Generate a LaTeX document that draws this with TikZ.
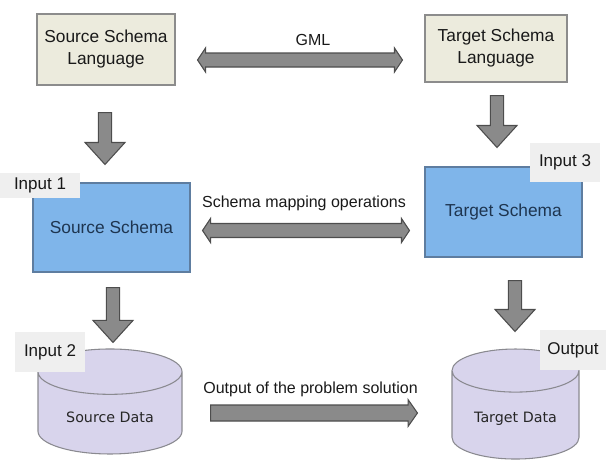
\documentclass[tikz,border=0pt]{standalone}
\usepackage{fontspec}
\setmainfont{Liberation Sans}
\newfontfamily\dbfont{DejaVu Sans}
\usetikzlibrary{calc,shapes.geometric}
\definecolor{langfill}{HTML}{ECEBDD}
\definecolor{langline}{HTML}{8C8C8C}
\definecolor{schemafill}{HTML}{7FB5EA}
\definecolor{schemaline}{HTML}{5E7DA0}
\definecolor{schematext}{HTML}{1E3550}
\definecolor{datafill}{HTML}{D8D4EC}
\definecolor{dataline}{HTML}{8A8A90}
\definecolor{tabfill}{HTML}{EFEFEF}
\definecolor{arrowfill}{HTML}{8A8A8A}
\definecolor{arrowline}{HTML}{4D4D4D}
\begin{document}
\begin{tikzpicture}[x=0.75pt,y=-0.75pt,
  langbox/.style={draw=langline, fill=langfill, line width=0.8pt, align=center,
    text=black!90, font=\fontsize{13}{16.5}\selectfont},
  schemabox/.style={draw=schemaline, fill=schemafill, line width=0.8pt,
    text=schematext, font=\fontsize{13}{15.5}\selectfont},
  database/.style={cylinder, shape border rotate=90, aspect=0.47, draw=dataline,
    fill=datafill, line width=0.8pt, text=black!85, font=\dbfont\fontsize{10.7}{13}\selectfont},
  tab/.style={fill=tabfill, text=black!90, font=\fontsize{12.75}{15}\selectfont},
  lbl/.style={text=black!90, font=\fontsize{12}{14}\selectfont},
  fatdown/.style={draw=arrowline, fill=arrowfill, line width=0.8pt,
    to path={let \p1=(\tikztostart), \p2=(\tikztotarget) in
      (\x1-5pt,\y1) -- (\x1+5pt,\y1) -- (\x1+5pt,\y2+16.5pt) -- (\x1+15pt,\y2+16.5pt)
      -- (\x1,\y2) -- (\x1-15pt,\y2+16.5pt) -- (\x1-5pt,\y2+16.5pt) -- cycle}},
  fatboth/.style={draw=arrowline, fill=arrowfill, line width=0.8pt,
    to path={let \p1=(\tikztostart), \p2=(\tikztotarget) in
      (\x1,\y1) -- (\x1+6pt,\y1+9pt) -- (\x1+6pt,\y1+5.25pt) -- (\x2-6pt,\y1+5.25pt)
      -- (\x2-6pt,\y1+9pt) -- (\x2,\y1) -- (\x2-6pt,\y1-9pt) -- (\x2-6pt,\y1-5.25pt)
      -- (\x1+6pt,\y1-5.25pt) -- (\x1+6pt,\y1-9pt) -- cycle}},
  fatright/.style={draw=arrowline, fill=arrowfill, line width=0.8pt,
    to path={let \p1=(\tikztostart), \p2=(\tikztotarget) in
      (\x1,\y1+6pt) -- (\x2-7pt,\y1+6pt) -- (\x2-7pt,\y1+10pt) -- (\x2,\y1)
      -- (\x2-7pt,\y1-10pt) -- (\x2-7pt,\y1-6pt) -- (\x1,\y1-6pt) -- cycle}}]
  \useasboundingbox (0,0) rectangle (606,462);

  % Schema languages
  \node[langbox, minimum width=103.5pt, minimum height=53.25pt] (srclang) at (106,49.5)
    {Source Schema\\Language};
  \node[langbox, minimum width=106.5pt, minimum height=50.25pt] (tgtlang) at (496,48.5)
    {Target Schema\\Language};

  % Schemas
  \node[schemabox, minimum width=117.75pt, minimum height=66.75pt] (srcschema) at (111.5,227.5)
    {Source Schema};
  \node[schemabox, minimum width=117.75pt, minimum height=67.5pt] (tgtschema) at (503.5,212)
    {Target Schema};

  % Data stores
  \node[database, minimum width=108pt, minimum height=78.75pt] (srcdata) at (110,417)
    {Source Data};
  \node[database, minimum width=95.25pt, minimum height=82.5pt] (tgtdata) at (515.5,419)
    {Target Data};

  % Input / output tabs
  \node[tab, minimum width=60pt, minimum height=18.75pt] (in1) at (40,185.5) {Input 1};
  \node[tab, minimum width=52.5pt, minimum height=29.25pt] (in3) at (565,162.5) {Input 3};
  \node[tab, minimum width=52.5pt, minimum height=30pt] (in2) at (50,352) {Input 2};
  \node[tab, minimum width=49.5pt, minimum height=30pt] (out) at (573,350) {Output};

  % Vertical flow
  \draw[fatdown] ($(srclang.south)+(-1,27)$) to ($(srcschema.north)+(-6.5,-18)$);
  \draw[fatdown] ($(tgtlang.south)+(1,13)$) to ($(tgtschema.north)+(-6.5,-19)$);
  \draw[fatdown] ($(srcschema.south)+(1.5,15)$) to ($(srcdata.north)+(3,-6)$);
  \draw[fatdown] ($(tgtschema.south)+(11.5,23)$) to ($(tgtdata.north)+(-0.5,-17)$);

  % Horizontal links
  \draw[fatboth] ($(srclang.east)+(22,10.5)$) to ($(tgtlang.west)+(-22,11.5)$);
  \draw[fatboth] ($(srcschema.east)+(12,3)$) to ($(tgtschema.west)+(-15,18.5)$);
  \draw[fatright] ($(srcdata.east)+(28,-4)$) to ($(tgtdata.west)+(-34,-6)$);

  % Link labels
  \node[lbl] (gml) at (313,40) {GML};
  \node[lbl] (mapping) at (304,203) {Schema mapping operations};
  \node[lbl] (solution) at (310.5,389) {Output of the problem solution};
\end{tikzpicture}
\end{document}
